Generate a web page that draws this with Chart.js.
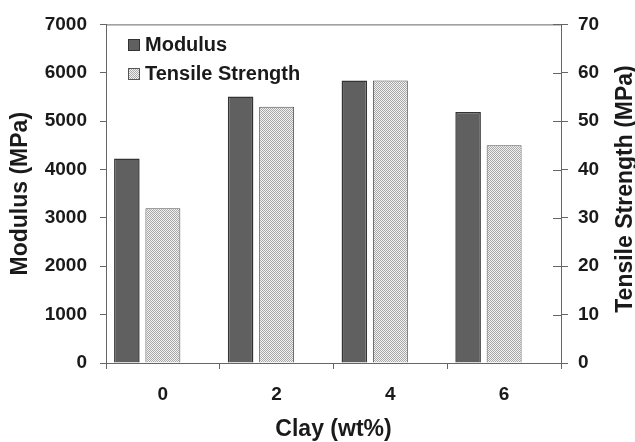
<!DOCTYPE html>
<html>
<head>
<meta charset="utf-8">
<script src="https://cdn.jsdelivr.net/npm/chart.js@4.4.1/dist/chart.umd.min.js"></script>
<style>
  html, body { margin: 0; padding: 0; background: #fff; }
  #wrap { position: relative; width: 635px; height: 442px; }
</style>
</head>
<body>
<div id="wrap"><canvas id="clayChart"></canvas></div>
<script>
// Clay loading vs. modulus / tensile strength
const clayLabels = ['0', '2', '4', '6'];
const modulusValues = [4230, 5510, 5840, 5190];   // MPa, left axis
const tensileValues = [32, 53, 58.4, 45];          // MPa, right axis
const spacerValues = [null, null, null, null];     // empty slot so bars sit like the original

const FONT = '"Liberation Sans", Arial, sans-serif';
const AXIS_COLOR = '#666';
const TEXT_COLOR = '#1a1a1a';

// dotted fill for the tensile bars
function makeDots() {
  const c = document.createElement('canvas');
  c.width = 2; c.height = 2;
  const g = c.getContext('2d');
  g.fillStyle = '#f2f2f2';
  g.fillRect(0, 0, 2, 2);
  g.fillStyle = '#a8a8a8';
  g.fillRect(0, 0, 1, 1);
  g.fillRect(1, 1, 1, 1);
  return g.createPattern(c, 'repeat');
}

const ctx = document.getElementById('clayChart').getContext('2d');
const dots = makeDots();

// top border, inward ticks on the right axis, legend, right title
const extras = {
  id: 'extras',
  afterDraw(chart) {
    const { ctx, chartArea } = chart;
    const y2 = chart.scales.y2;
    ctx.save();
    ctx.strokeStyle = AXIS_COLOR;
    ctx.lineWidth = 1;
    ctx.beginPath();
    ctx.moveTo(chartArea.left, chartArea.top + 0.5);
    ctx.lineTo(chartArea.right, chartArea.top + 0.5);
    y2.ticks.forEach((t, i) => {
      const py = Math.round(y2.getPixelForTick(i)) + 0.5;
      ctx.moveTo(chartArea.right - 8, py);
      ctx.lineTo(chartArea.right, py);
    });
    ctx.stroke();

    // legend
    const items = chart.data.datasets.filter(d => d.label);
    ctx.font = 'bold 20px ' + FONT;
    ctx.textBaseline = 'middle';
    ctx.textAlign = 'left';
    items.forEach((d, i) => {
      const by = 39 + i * 29;
      ctx.fillStyle = d.backgroundColor;
      ctx.fillRect(128, by, 12, 12);
      ctx.strokeStyle = d.borderColor;
      ctx.strokeRect(128.5, by + 0.5, 11, 11);
      ctx.fillStyle = TEXT_COLOR;
      ctx.fillText(d.label, 145, by + 6.5);
    });

    // right axis title, reading bottom to top
    ctx.translate(626, 189);
    ctx.rotate(-Math.PI / 2);
    ctx.font = 'bold 23px ' + FONT;
    ctx.textAlign = 'center';
    ctx.fillText('Tensile Strength (MPa)', 0, 0);
    ctx.restore();
  }
};

const plainTick = (v) => String(v);

new Chart(ctx, {
  type: 'bar',
  data: {
    labels: clayLabels,
    datasets: [
      {
        label: 'Modulus',
        data: modulusValues,
        yAxisID: 'y',
        backgroundColor: '#606060',
        borderColor: '#333',
        borderWidth: 1.5,
        barPercentage: 0.71,
        categoryPercentage: 0.95,
      },
      {
        label: 'Tensile Strength',
        data: tensileValues,
        yAxisID: 'y2',
        backgroundColor: dots,
        borderColor: '#555',
        borderWidth: 1,
        barPercentage: 0.97,
        categoryPercentage: 0.95,
      },
      {
        label: '',
        data: spacerValues,
        yAxisID: 'y',
        backgroundColor: 'rgba(0,0,0,0)',
        barPercentage: 0.97,
        categoryPercentage: 0.95,
      }
    ]
  },
  options: {
    responsive: true,
    maintainAspectRatio: false,
    animation: false,
    layout: { padding: { top: 22, left: 0, right: 0, bottom: 0 } },
    plugins: {
      legend: { display: false },
      tooltip: { enabled: false },
    },
    scales: {
      x: {
        offset: true,
        grid: { offset: true, drawOnChartArea: false, tickLength: 6, color: AXIS_COLOR },
        border: { color: AXIS_COLOR },
        ticks: { color: TEXT_COLOR, padding: 14, font: { family: FONT, size: 19, weight: 'bold' } },
        title: {
          display: true,
          text: 'Clay (wt%)',
          color: TEXT_COLOR,
          font: { family: FONT, size: 23, weight: 'bold', lineHeight: 1 },
          padding: { top: 0, bottom: 0.5 },
        },
        afterFit: (s) => { s.height = 79; },
      },
      y: {
        position: 'left',
        min: 0,
        max: 7000,
        grid: { drawOnChartArea: false, tickLength: 6, color: AXIS_COLOR },
        border: { color: AXIS_COLOR },
        ticks: { stepSize: 1000, callback: plainTick, color: TEXT_COLOR, padding: 13, font: { family: FONT, size: 19, weight: 'bold' } },
        title: {
          display: true,
          text: 'Modulus (MPa)',
          color: TEXT_COLOR,
          font: { family: FONT, size: 23, weight: 'bold', lineHeight: 1 },
          padding: { top: 9.5, bottom: 0 },
        },
        afterFit: (s) => { s.width = 106; },
      },
      y2: {
        position: 'right',
        min: 0,
        max: 70,
        grid: { drawOnChartArea: false, tickLength: 7, color: AXIS_COLOR },
        border: { color: AXIS_COLOR },
        ticks: { stepSize: 10, callback: plainTick, color: TEXT_COLOR, padding: 10, font: { family: FONT, size: 19, weight: 'bold' } },
        afterFit: (s) => { s.width = 74; },
      }
    }
  },
  plugins: [extras]
});
</script>
</body>
</html>
